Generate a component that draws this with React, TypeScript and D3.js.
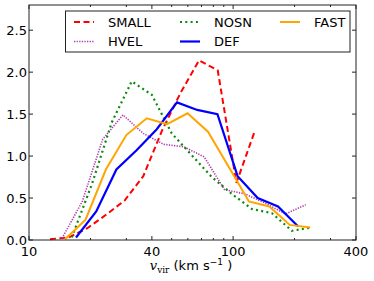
import React from "react";
import * as d3 from "d3";

const smallV = [12.67, 15.64, 19.31, 23.83, 29.4, 36.3, 44.77, 55.2, 68.1, 84.1, 103.8, 128.2];
const smallY = [0.01, 0.03, 0.14, 0.3, 0.47, 0.76, 1.3, 1.75, 2.14, 2.02, 0.68, 1.31];

const hvelV = [14.51, 18.25, 22.96, 28.87, 36.3, 45.64, 57.4, 72.17, 90.75, 114.1, 143.5, 180.4, 226.9];
const hvelY = [0.02, 0.46, 1.2, 1.49, 1.27, 1.14, 1.11, 0.99, 0.6, 0.55, 0.44, 0.31, 0.42];

const nosnV = [16.19, 20.3, 25.43, 31.87, 39.96, 50.06, 62.74, 78.63, 98.5, 123.5, 154.8, 194, 243.1];
const nosnY = [0.03, 0.66, 1.4, 1.89, 1.73, 1.27, 1.01, 0.75, 0.55, 0.37, 0.32, 0.11, 0.15];

const defV = [17.0, 21.35, 26.8, 33.65, 42.27, 53.1, 66.7, 83.8, 105.2, 132.0, 165.9, 208.3];
const defY = [0.03, 0.34, 0.84, 1.07, 1.32, 1.64, 1.55, 1.5, 0.76, 0.5, 0.4, 0.16];

const fastV = [15.01, 18.9, 23.8, 29.98, 37.75, 47.5, 59.8, 75.3, 94.8, 119.5, 150.5, 189.4, 238.5];
const fastY = [0.01, 0.24, 0.84, 1.25, 1.45, 1.38, 1.51, 1.29, 0.88, 0.46, 0.4, 0.18, 0.15];

const xMajorTicks = [10, 40, 100, 400];
const xMinorTicks = [20, 30, 50, 60, 70, 80, 90, 200, 300];
const yTicks = [0.0, 0.5, 1.0, 1.5, 2.0, 2.5];

const series = [
  { name: "SMALL", v: smallV, y: smallY, color: "#ff0000", dash: "6,3.5", width: 2 },
  { name: "HVEL", v: hvelV, y: hvelY, color: "#b03cb0", dash: "1.3,1.3", width: 1.6 },
  { name: "NOSN", v: nosnV, y: nosnY, color: "#0a8a0a", dash: "2,3.3", width: 2.2 },
  { name: "DEF", v: defV, y: defY, color: "#0000ff", dash: "", width: 2.2 },
  { name: "FAST", v: fastV, y: fastY, color: "#ffa500", dash: "", width: 2 },
];

const legendLayout = [
  { name: "SMALL", col: 0, row: 0 },
  { name: "HVEL", col: 0, row: 1 },
  { name: "NOSN", col: 1, row: 0 },
  { name: "DEF", col: 1, row: 1 },
  { name: "FAST", col: 2, row: 0 },
];

export default function App() {
  const W = 374, H = 281;
  const L = 29, R = 356, T = 5, B = 240;
  const x = d3.scaleLog().domain([10, 400]).range([L, R]);
  const y = d3.scaleLinear().domain([0, 2.8]).range([B, T]);
  const font = "'DejaVu Sans', sans-serif";

  const line = (vs: number[], ys: number[]) =>
    d3.line<number>()
      .x((_, i) => x(vs[i]))
      .y((d) => y(d))(ys) || "";

  const colX = [74, 180, 280];
  const textX = [108, 214, 314];
  const rowY = [22, 41.5];

  return (
    <svg width={W} height={H} style={{ position: "absolute", left: 0, top: 0, background: "#fff" }}>
      <rect x={0} y={0} width={W} height={H} fill="#fff" />
      {series.map((s) => (
        <path key={s.name} d={line(s.v, s.y)} fill="none" stroke={s.color}
          strokeWidth={s.width} strokeDasharray={s.dash || undefined} strokeLinejoin="miter" />
      ))}
      {/* frame */}
      <rect x={L} y={T} width={R - L} height={B - T} fill="none" stroke="#222" strokeWidth={1} />
      {/* x ticks */}
      {xMajorTicks.map((t) => (
        <g key={"xm" + t}>
          <line x1={x(t)} x2={x(t)} y1={B} y2={B - 4} stroke="#222" />
          <line x1={x(t)} x2={x(t)} y1={T} y2={T + 4} stroke="#222" />
          <text x={x(t)} y={256} textAnchor="middle" fontFamily={font} fontSize={13} fill="#000">{t}</text>
        </g>
      ))}
      {xMinorTicks.map((t) => (
        <g key={"xn" + t}>
          <line x1={x(t)} x2={x(t)} y1={B} y2={B - 2} stroke="#222" />
          <line x1={x(t)} x2={x(t)} y1={T} y2={T + 2} stroke="#222" />
        </g>
      ))}
      {yTicks.map((t) => (
        <g key={"y" + t}>
          <line x1={L} x2={L + 4} y1={y(t)} y2={y(t)} stroke="#222" />
          <line x1={R} x2={R - 4} y1={y(t)} y2={y(t)} stroke="#222" />
          <text x={27} y={y(t) + 4.7} textAnchor="end" fontFamily={font} fontSize={13} fill="#000">{t.toFixed(1)}</text>
        </g>
      ))}
      {/* legend */}
      <rect x={65.5} y={11} width={284.5} height={41} fill="#fff" stroke="#222" strokeWidth={1} />
      {legendLayout.map((e) => {
        const s = series.find((q) => q.name === e.name)!;
        const yy = rowY[e.row];
        return (
          <g key={"lg" + e.name}>
            <line x1={colX[e.col]} x2={colX[e.col] + 20} y1={yy} y2={yy} stroke={s.color}
              strokeWidth={s.width} strokeDasharray={s.dash || undefined} />
            <text x={textX[e.col]} y={yy + 4.7} fontFamily={font} fontSize={13} fill="#000">{e.name}</text>
          </g>
        );
      })}
      {/* x label */}
      <text x={191} y={270} textAnchor="middle" fontFamily={font} fontSize={13} fill="#000">
        <tspan fontFamily="'DejaVu Serif', serif" fontStyle="italic">v</tspan>
        <tspan fontFamily="'DejaVu Serif', serif" fontSize={9} dy={2.5}>vir</tspan>
        <tspan dy={-2.5}> (km s</tspan>
        <tspan fontSize={9} dy={-5}>−1</tspan>
        <tspan dy={5}> )</tspan>
      </text>
    </svg>
  );
}
